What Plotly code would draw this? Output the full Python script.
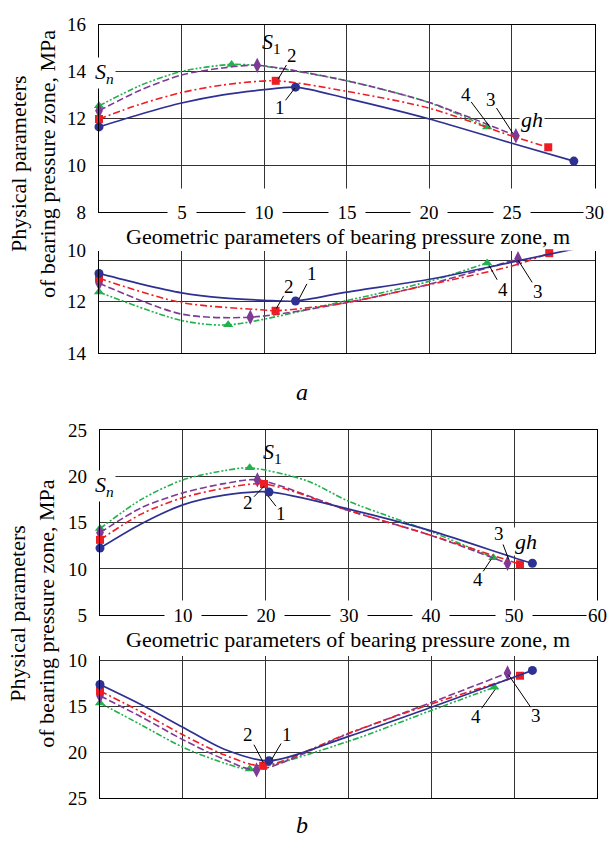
import plotly.graph_objects as go

# ---------------- DATA ----------------
# Panel a, upper chart (x: m, y: MPa)
a_up_blue_x = [0, 2.5, 5, 7.5, 10, 11.9, 15, 20, 25, 28.75]
a_up_blue_y = [11.63, 12.17, 12.65, 13.0, 13.22, 13.33, 12.85, 11.97, 10.93, 10.17]
a_up_red_x = [0, 2.5, 5, 7.5, 10.7, 15, 20, 25, 27.2]
a_up_red_y = [11.97, 12.6, 13.1, 13.42, 13.6, 13.15, 12.43, 11.24, 10.76]
a_up_purple_x = [0, 2.5, 5, 7.5, 9.58, 15, 20, 25.24]
a_up_purple_y = [12.32, 13.2, 13.85, 14.15, 14.26, 13.6, 12.67, 11.25]
a_up_green_x = [0, 2.5, 5, 8.03, 10, 15, 20, 23.5]
a_up_green_y = [12.53, 13.4, 14.0, 14.3, 14.22, 13.6, 12.67, 11.63]

# Panel a, lower chart (inverted axis)
a_lo_blue_x = [0, 2.5, 5, 7.5, 10, 11.9, 15, 20, 25, 28.75]
a_lo_blue_y = [10.89, 11.3, 11.65, 11.85, 11.94, 11.97, 11.62, 11.12, 10.45, 9.94]
a_lo_red_x = [0, 5, 10, 10.69, 15, 20, 25, 27.26]
a_lo_red_y = [11.08, 12.03, 12.32, 12.35, 12.03, 11.33, 10.6, 10.1]
a_lo_purple_x = [0, 5, 9.16, 15, 20, 25.37]
a_lo_purple_y = [11.27, 12.48, 12.6, 12.03, 11.31, 10.32]
a_lo_green_x = [0, 5, 7.82, 15, 20, 23.5]
a_lo_green_y = [11.62, 12.73, 12.9, 11.95, 11.2, 10.48]

# Panel b, upper chart
b_up_blue_x = [0, 5, 10, 15, 20.4, 30, 40, 50, 52.2]
b_up_blue_y = [12.24, 14.87, 16.9, 17.95, 18.3, 16.45, 14.1, 11.2, 10.6]
b_up_red_x = [0, 5, 10, 15, 19.8, 30, 40, 50.7]
b_up_red_y = [13.13, 15.93, 17.68, 18.7, 19.16, 16.3, 13.6, 10.49]
b_up_purple_x = [0, 5, 10, 15, 19.0, 30, 40, 49.2]
b_up_purple_y = [13.9, 16.6, 18.2, 19.2, 19.6, 16.3, 13.6, 10.6]
b_up_green_x = [0, 5, 10, 15, 18.07, 25, 30, 40, 47.5]
b_up_green_y = [14.35, 17.5, 19.6, 20.6, 20.9, 19.5, 17.3, 14.0, 11.2]

# Panel b, lower chart (inverted axis)
b_lo_blue_x = [0, 5, 10, 15, 20.4, 30, 40, 52.2]
b_lo_blue_y = [12.65, 14.85, 17.3, 19.7, 20.95, 18.3, 15.12, 11.12]
b_lo_red_x = [0, 5, 10, 15, 19.7, 30, 40, 50.7]
b_lo_red_y = [13.35, 15.65, 18.12, 20.3, 21.49, 17.95, 14.77, 11.7]
b_lo_purple_x = [0, 5, 10, 15, 18.9, 30, 40, 49.2]
b_lo_purple_y = [13.88, 16.18, 18.65, 20.8, 21.94, 18.0, 14.6, 11.4]
b_lo_green_x = [0, 5, 10, 15, 18.07, 30, 40, 47.6]
b_lo_green_y = [14.66, 17.06, 19.47, 21.2, 21.84, 18.83, 15.47, 12.95]

# indices of the points that carry markers (start, extremum, end)
a_up_blue_mk = [0, 5, 9]
a_up_red_mk = [0, 4, 8]
a_up_purple_mk = [0, 4, 7]
a_up_green_mk = [0, 3, 7]
a_lo_blue_mk = [0, 5, 9]
a_lo_red_mk = [0, 3, 7]
a_lo_purple_mk = [0, 2, 5]
a_lo_green_mk = [0, 2, 5]
b_up_blue_mk = [0, 4, 8]
b_up_red_mk = [0, 4, 7]
b_up_purple_mk = [0, 4, 7]
b_up_green_mk = [0, 4, 8]
b_lo_blue_mk = [0, 4, 7]
b_lo_red_mk = [0, 4, 7]
b_lo_purple_mk = [0, 4, 7]
b_lo_green_mk = [0, 4, 7]

# tick labels
a_x_ticks = [5, 10, 15, 20, 25, 30]
b_x_ticks = [10, 20, 30, 40, 50, 60]
a_up_y_ticks = [8, 10, 12, 14, 16]
a_lo_y_ticks = [10, 12, 14]
a_lo_y_grid = [10.4, 12]
b_up_y_ticks = [5, 10, 15, 20, 25]
b_lo_y_ticks = [10, 15, 20, 25]

X_TITLE = "Geometric parameters of bearing pressure zone, m"
Y_TITLE_1 = "Physical parameters"
Y_TITLE_2 = "of bearing pressure zone, MPa"

# ---------------- STYLE ----------------
FONT = "Liberation Serif, Times New Roman, serif"
W, H = 608, 850
GRID = "#333333"
STYLES = {
    "green": dict(color="#22B14C", dash="6px,2px,2px,2px,2px,2px", width=1.6,
                  symbol="triangle-up", size=9),
    "purple": dict(color="#7E3B96", dash="7px,3px", width=1.6,
                   symbol="diamond-tall", size=11),
    "red": dict(color="#EE1D24", dash="7px,3px,2px,3px", width=1.6,
                symbol="square", size=8),
    "blue": dict(color="#2E3192", dash="solid", width=1.7,
                 symbol="circle", size=9),
}


def px_x(p):
    return p / W


def px_y(p):
    return 1 - p / H


fig = go.Figure()


def add_series(xs, ys, mk, name, xa, ya):
    st = STYLES[name]
    fig.add_trace(go.Scatter(
        x=xs, y=ys, mode="lines", xaxis=xa, yaxis=ya, hoverinfo="skip",
        showlegend=False, cliponaxis=False,
        line=dict(color=st["color"], dash=st["dash"], width=st["width"],
                  shape="spline", smoothing=0.8)))
    fig.add_trace(go.Scatter(
        x=[xs[i] for i in mk], y=[ys[i] for i in mk], mode="markers",
        xaxis=xa, yaxis=ya, hoverinfo="skip", showlegend=False,
        cliponaxis=False,
        marker=dict(color=st["color"], symbol=st["symbol"], size=st["size"],
                    line=dict(width=0))))


panels = [
    ("x", "y", [(a_up_green_x, a_up_green_y, a_up_green_mk, "green"),
                (a_up_purple_x, a_up_purple_y, a_up_purple_mk, "purple"),
                (a_up_red_x, a_up_red_y, a_up_red_mk, "red"),
                (a_up_blue_x, a_up_blue_y, a_up_blue_mk, "blue")]),
    ("x2", "y2", [(a_lo_green_x, a_lo_green_y, a_lo_green_mk, "green"),
                  (a_lo_purple_x, a_lo_purple_y, a_lo_purple_mk, "purple"),
                  (a_lo_red_x, a_lo_red_y, a_lo_red_mk, "red"),
                  (a_lo_blue_x, a_lo_blue_y, a_lo_blue_mk, "blue")]),
    ("x3", "y3", [(b_up_green_x, b_up_green_y, b_up_green_mk, "green"),
                  (b_up_purple_x, b_up_purple_y, b_up_purple_mk, "purple"),
                  (b_up_red_x, b_up_red_y, b_up_red_mk, "red"),
                  (b_up_blue_x, b_up_blue_y, b_up_blue_mk, "blue")]),
    ("x4", "y4", [(b_lo_green_x, b_lo_green_y, b_lo_green_mk, "green"),
                  (b_lo_purple_x, b_lo_purple_y, b_lo_purple_mk, "purple"),
                  (b_lo_red_x, b_lo_red_y, b_lo_red_mk, "red"),
                  (b_lo_blue_x, b_lo_blue_y, b_lo_blue_mk, "blue")]),
]
for xa, ya, series in panels:
    for xs, ys, mk, name in series:
        add_series(xs, ys, mk, name, xa, ya)

tickfont = dict(family=FONT, size=19, color="black")


def xaxis(dom, rng, dtick, anchor, mirror):
    return dict(domain=dom, range=rng, dtick=dtick, tick0=0, showgrid=True,
                gridcolor=GRID, gridwidth=1.2, showticklabels=False,
                ticks="", zeroline=False, showline=True, linecolor="black",
                linewidth=1.3, mirror=mirror, anchor=anchor, fixedrange=True)


def yaxis(dom, rng, ticks, anchor, showgrid=True):
    return dict(domain=dom, range=rng, tickmode="array", tickvals=ticks,
                showgrid=showgrid, gridcolor=GRID, gridwidth=1.2,
                ticks="", zeroline=False, showline=True, linecolor="black",
                linewidth=1.3, mirror=True, anchor=anchor, tickfont=tickfont,
                ticklabelstandoff=8, fixedrange=True)


a_xdom = [px_x(99), px_x(594.5)]
b_xdom = [px_x(100), px_x(597)]

fig.update_layout(
    width=W, height=H, margin=dict(l=0, r=0, t=0, b=0),
    paper_bgcolor="white", plot_bgcolor="white", showlegend=False,
    font=dict(family=FONT, color="black"),
    xaxis=xaxis(a_xdom, [0, 30], 5, "y", True),
    yaxis=yaxis([px_y(207), px_y(15)], [8, 16], a_up_y_ticks, "x"),
    xaxis2=xaxis(a_xdom, [0, 30], 5, "y2", False),
    yaxis2=dict(yaxis([px_y(351.7), px_y(246.7)], [14, 10], a_lo_y_ticks,
                      "x2", showgrid=False),
                minor=dict(tickmode="array", tickvals=a_lo_y_grid,
                           showgrid=True, gridcolor=GRID, gridwidth=1.2,
                           ticks="")),
    xaxis3=xaxis(b_xdom, [0, 60], 10, "y3", True),
    yaxis3=yaxis([px_y(620.5), px_y(430.5)], [5, 25], b_up_y_ticks, "x3"),
    xaxis4=xaxis(b_xdom, [0, 60], 10, "y4", False),
    yaxis4=yaxis([px_y(808), px_y(662.8)], [25, 9.6], b_lo_y_ticks, "x4"),
)

ann = []
# x tick labels sitting on the bottom line of the upper charts
for v in a_x_ticks:
    d = dict(x=v, y=8, xref="x", yref="y", text=str(v),
             showarrow=False, bgcolor="white", height=44,
             xanchor="center", yanchor="middle", font=tickfont)
    if v != a_x_ticks[-1]:
        d["width"] = 26 if v < 10 else 34
    ann.append(d)
for v in b_x_ticks:
    d = dict(x=v, y=5, xref="x3", yref="y3", text=str(v),
             showarrow=False, bgcolor="white", height=26,
             xanchor="center", yanchor="middle", font=tickfont)
    if v != b_x_ticks[-1]:
        d["width"] = 34
    ann.append(d)

title_font = dict(family=FONT, size=22, color="black")
for yc, ycap in [(232, 158), (645, 619)]:
    ann.append(dict(x=px_x(348), y=px_y(yc), xref="paper", yref="paper",
                    text=X_TITLE, showarrow=False, font=title_font,
                    xanchor="center", yanchor="middle"))
    ann.append(dict(x=px_x(18), y=px_y(ycap), xref="paper", yref="paper",
                    text=Y_TITLE_1, showarrow=False, textangle=-90,
                    font=title_font, xanchor="center", yanchor="middle"))
    ann.append(dict(x=px_x(47), y=px_y(ycap), xref="paper", yref="paper",
                    text=Y_TITLE_2, showarrow=False, textangle=-90,
                    font=title_font, xanchor="center", yanchor="middle"))

for t, xp, yp in [("<i>a</i>", 302, 392), ("<i>b</i>", 302, 836)]:
    ann.append(dict(x=px_x(xp), y=px_y(yp), xref="paper", yref="paper",
                    text=t, showarrow=False, xanchor="center",
                    yanchor="middle",
                    font=dict(family=FONT, size=24, color="black")))

sfont = dict(family=FONT, size=22, color="black")
lfont = dict(family=FONT, size=19, color="black")
# S1, Sn, gh labels
for xr, yr, x, y, t, bg in [
    ("x", "y", 10.47, 15.21, "<i>S</i><sub>1</sub>", None),
    ("x", "y", 0.36, 13.92, "<i>S<sub>n</sub></i>", "white"),
    ("x", "y", 26.19, 11.93, "<i>gh</i>", "white"),
    ("x3", "y3", 20.77, 22.53, "<i>S</i><sub>1</sub>", None),
    ("x3", "y3", 0.6, 18.95, "<i>S<sub>n</sub></i>", "white"),
    ("x3", "y3", 51.45, 12.95, "<i>gh</i>", "white"),
]:
    d = dict(x=x, y=y, xref=xr, yref=yr, text=t, showarrow=False, font=sfont,
             xanchor="center", yanchor="middle")
    if bg:
        d["bgcolor"] = bg
    ann.append(d)

# curve number labels with leader lines: (axes, text pos, head pos, label)
for xr, yr, tx, ty, hx, hy, t in [
    ("x", "y", 11.68, 14.67, 10.85, 13.68, "2"),
    ("x", "y", 10.96, 12.46, 11.86, 13.29, "1"),
    ("x", "y", 22.2, 13.01, 23.67, 11.63, "4"),
    ("x", "y", 23.73, 12.8, 25.08, 11.33, "3"),
    ("x2", "y2", 11.51, 11.39, 10.74, 12.26, "2"),
    ("x2", "y2", 12.92, 10.89, 12.1, 11.9, "1"),
    ("x2", "y2", 24.44, 11.52, 23.61, 10.57, "4"),
    ("x2", "y2", 26.56, 11.58, 25.38, 10.38, "3"),
    ("x3", "y3", 17.92, 17.16, 19.81, 18.92, "2"),
    ("x3", "y3", 21.91, 16.0, 20.28, 17.86, "1"),
    ("x3", "y3", 48.16, 13.82, 49.34, 11.02, "3"),
    ("x3", "y3", 45.6, 8.84, 47.22, 11.02, "4"),
    ("x4", "y4", 17.92, 18.06, 19.71, 21.13, "2"),
    ("x4", "y4", 22.52, 18.06, 20.74, 20.77, "1"),
    ("x4", "y4", 45.41, 16.08, 47.71, 13.18, "4"),
    ("x4", "y4", 52.66, 16.0, 49.31, 11.59, "3"),
]:
    ann.append(dict(x=hx, y=hy, xref=xr, yref=yr, ax=tx, ay=ty,
                    axref=xr, ayref=yr, text=t, showarrow=True, arrowhead=0,
                    arrowwidth=1, arrowcolor="black", font=lfont,
                    borderpad=0))

fig.update_layout(annotations=ann)
# remove the browser's default 8px body margin so the figure sits at (0, 0)
fig.write_html("out.html", config={"displayModeBar": False},
               post_script="document.body.style.margin='0px';")
